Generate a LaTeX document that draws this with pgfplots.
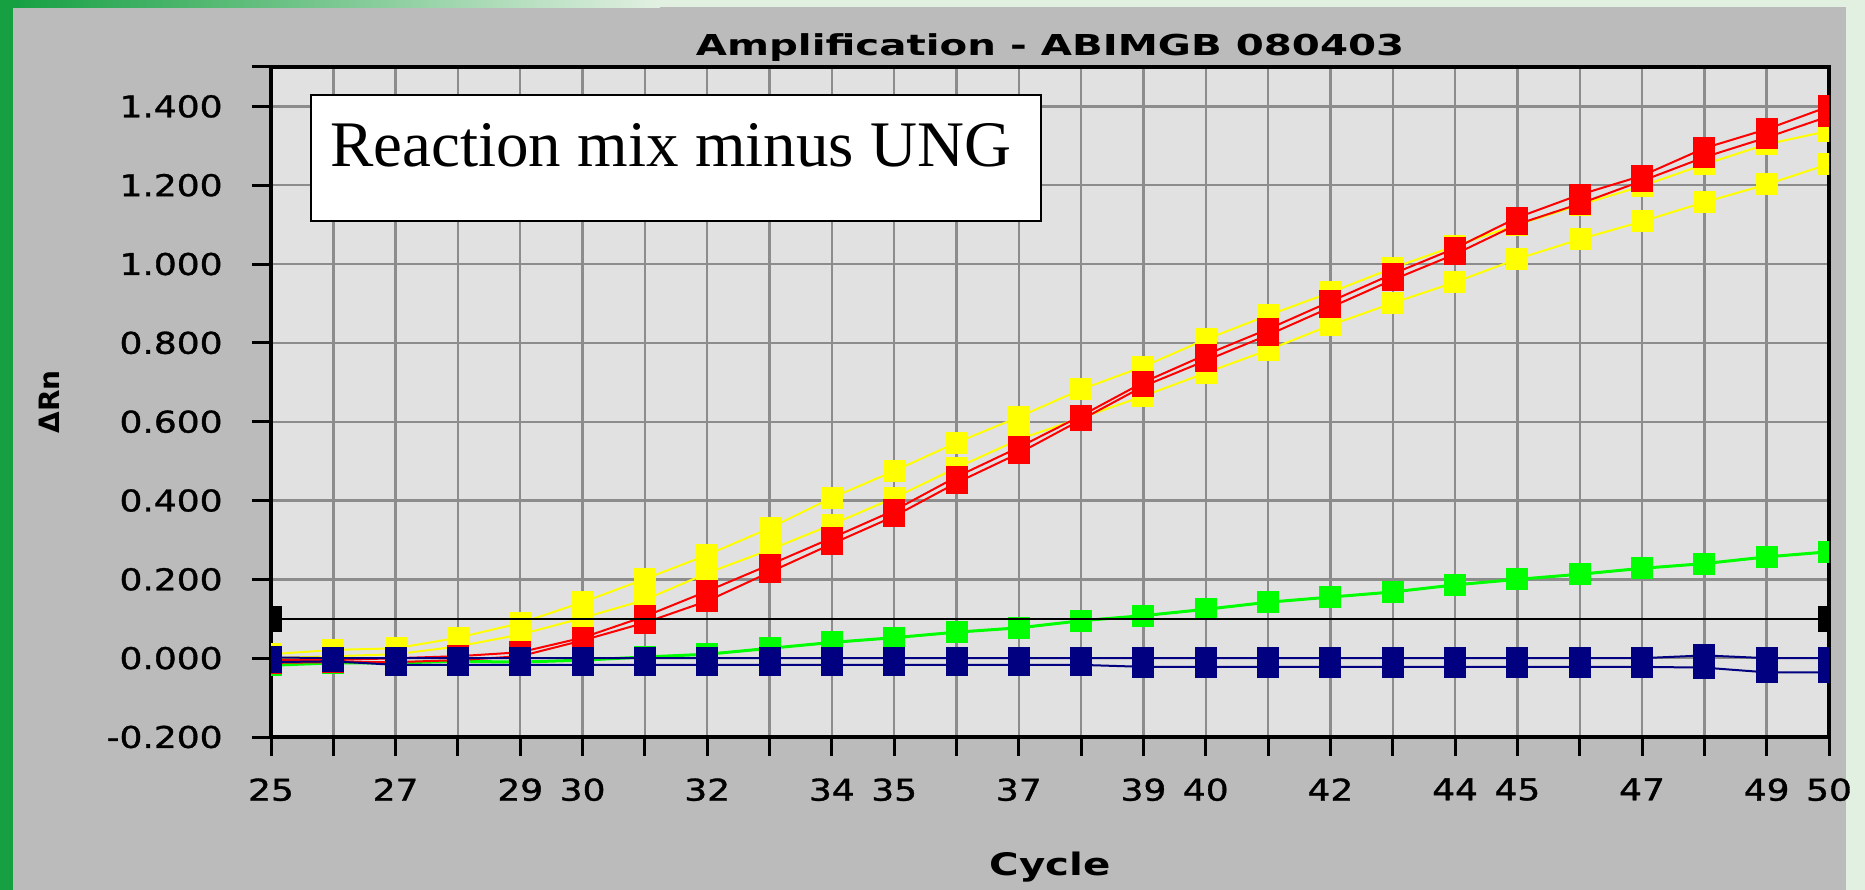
\documentclass[border=0pt]{standalone}
\usepackage{fontspec}
\usepackage{graphicx}
\usepackage{pgfplots}
\usepackage{pgfplotstable}
\pgfplotsset{compat=1.18}
\newfontfamily\pix{DejaVu Sans}
\newfontfamily\pixm[FakeBold=1]{DejaVu Sans}
\newfontfamily\serif{Liberation Serif}
\definecolor{panel}{RGB}{187,187,187}
\definecolor{plotbg}{RGB}{225,225,225}
\definecolor{gridc}{RGB}{140,140,140}
\definecolor{edgegreen}{RGB}{22,160,66}
\definecolor{lightedge}{RGB}{226,240,226}
\definecolor{cyel}{RGB}{255,255,0}
\definecolor{cred}{RGB}{255,0,0}
\definecolor{cgreen}{RGB}{0,255,0}
\definecolor{cnavy}{RGB}{0,0,128}
\newcommand{\tl}[1]{\scalebox{1.2}[1]{\fontsize{15bp}{18bp}\selectfont\pixm #1}}

\pgfplotstableread{
c  y1    y2    r1     r2     g      na     nb
25 0.010 0.000 -0.005 -0.012 -0.018 0.002  -0.010
26 0.021 0.005 -0.005 -0.010 -0.012 0.000  -0.008
27 0.025 0.010 0.000  -0.010 -0.012 0.000  -0.017
28 0.052 0.030 0.005  -0.005 -0.008 0.000  -0.017
29 0.089 0.060 0.015  0.005  -0.010 0.000  -0.017
30 0.142 0.102 0.052  0.045  -0.005 0.000  -0.017
31 0.201 0.148 0.106  0.090  0.003  0.000  -0.017
32 0.262 0.216 0.170  0.145  0.010  0.000  -0.017
33 0.330 0.275 0.237  0.218  0.025  0.000  -0.017
34 0.407 0.339 0.305  0.290  0.040  0.000  -0.017
35 0.475 0.407 0.375  0.360  0.052  0.000  -0.017
36 0.547 0.483 0.460  0.445  0.066  0.000  -0.017
37 0.612 0.555 0.535  0.520  0.077  0.000  -0.017
38 0.682 0.610 0.615  0.605  0.095  0.000  -0.017
39 0.740 0.665 0.700  0.690  0.108  0.000  -0.022
40 0.809 0.724 0.770  0.755  0.124  0.000  -0.022
41 0.870 0.782 0.835  0.820  0.142  0.000  -0.022
42 0.928 0.845 0.905  0.890  0.155  0.000  -0.022
43 0.990 0.901 0.975  0.960  0.168  0.000  -0.022
44 1.046 0.954 1.040  1.025  0.186  0.000  -0.022
45 1.100 1.013 1.118  1.101  0.200  0.000  -0.022
46 1.150 1.063 1.176  1.153  0.213  0.000  -0.022
47 1.198 1.108 1.224  1.211  0.228  0.000  -0.022
48 1.253 1.157 1.294  1.271  0.240  0.007  -0.024
49 1.304 1.202 1.342  1.321  0.257  0.000  -0.036
50 1.338 1.254 1.400  1.375  0.270  0.000  -0.036
}\data

\begin{document}
\begin{tikzpicture}
\fill[panel] (0,0) rectangle (932.5bp,445bp);
\fill[edgegreen] (0,0) rectangle (6.25bp,445bp);
\shade[left color=edgegreen, right color=lightedge] (6.25bp,441.3bp) rectangle (330bp,445bp);
\fill[lightedge] (330bp,441.3bp) rectangle (932.5bp,445bp);
\fill[lightedge] (923bp,0) rectangle (932.5bp,441.3bp);

\begin{axis}[
  at={(135.5bp,76.5bp)}, anchor=south west,
  scale only axis, width=779bp, height=335bp,
  xmin=25, xmax=50, ymin=-0.2, ymax=1.5,
  axis background/.style={fill=plotbg},
  xtick={25,...,50},
  xticklabels={\tl{25},{},\tl{27},{},\tl{29},\tl{30},{},\tl{32},{},\tl{34},\tl{35},{},\tl{37},{},\tl{39},\tl{40},{},\tl{42},{},\tl{44},\tl{45},{},\tl{47},{},\tl{49},\tl{50}},
  ytick={-0.2,0,0.2,0.4,0.6,0.8,1.0,1.2,1.4,1.5},
  yticklabels={\tl{-0.200},\tl{0.000},\tl{0.200},\tl{0.400},\tl{0.600},\tl{0.800},\tl{1.000},\tl{1.200},\tl{1.400},{}},
  xtick pos=bottom, ytick pos=left,
  grid=major, major grid style={gridc, line width=1.2bp},
  axis line style={black, line width=1.6bp},
  tick align=outside, major tick length=9.5bp, tick style={black, line width=1.5bp},
  xticklabel style={anchor=north, inner sep=0pt, yshift=-11bp},
  yticklabel style={anchor=east, inner sep=0pt, xshift=-14.5bp},
  title={\scalebox{1.4}[1]{\fontsize{14.4bp}{17bp}\selectfont\pix\bfseries Amplification - ABIMGB 080403}},
  title style={at={(axis description cs:0.5,0.999)}, anchor=base, inner sep=0pt},
  xlabel={\scalebox{1.3}[1]{\fontsize{15.5bp}{18bp}\selectfont\pix\bfseries Cycle}},
  xlabel style={at={(axis description cs:0.5,-0.206)}, anchor=base, inner sep=0pt},
  ylabel={\fontsize{14bp}{17bp}\selectfont\pix\bfseries ΔRn},
  ylabel style={at={(axis description cs:-0.1425,0.5)}, anchor=center, inner sep=0pt},
  clip marker paths=true,
  every axis plot/.append style={line width=1bp, mark=square*, mark size=5bp},
]
\addplot[cyel, mark options={fill=cyel, draw=cyel}] table[x=c, y=y2] {\data};
\addplot[cyel, mark options={fill=cyel, draw=cyel}] table[x=c, y=y1] {\data};
\addplot[cgreen, line width=1.5bp, mark options={fill=cgreen, draw=cgreen, line width=1bp}] table[x=c, y=g] {\data};
\addplot[cred, mark options={fill=cred, draw=cred}] table[x=c, y=r2] {\data};
\addplot[cred, mark options={fill=cred, draw=cred}] table[x=c, y=r1] {\data};
\addplot[cnavy, mark options={fill=cnavy, draw=cnavy}] table[x=c, y=nb] {\data};
\addplot[cnavy, mark options={fill=cnavy, draw=cnavy}] table[x=c, y=na] {\data};
\addplot[black, line width=0.8bp, mark=none] coordinates {(25,0.1) (50,0.1)};
\addplot[black, only marks, mark=|, mark size=6.5bp, mark options={line width=5.5bp, xshift=2.75bp}] coordinates {(25,0.1)};
\addplot[black, only marks, mark=|, mark size=6.5bp, mark options={line width=5.5bp, xshift=-2.75bp}] coordinates {(50,0.1)};
\draw[black, line width=0.8bp, fill=white] (axis description cs:0.02567,0.7701) rectangle (axis description cs:0.4942,0.9582);
\node[anchor=base west, inner sep=0pt] at (axis description cs:0.03787,0.8522) {\fontsize{32.5bp}{39bp}\selectfont\serif Reaction mix minus UNG};
\end{axis}
\pgfresetboundingbox
\useasboundingbox (0,0) rectangle (932.5bp,445bp);
\end{tikzpicture}
\end{document}
